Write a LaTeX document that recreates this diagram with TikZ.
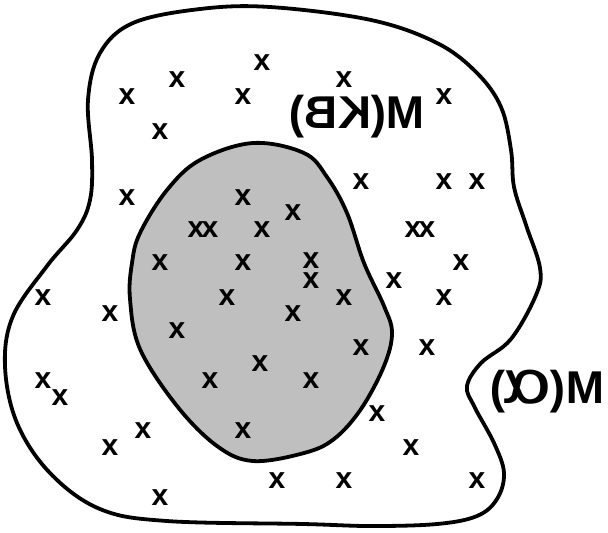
\documentclass[tikz,border=0pt]{standalone}
\usepackage{fontspec}
\setmainfont{Liberation Sans}
\newfontfamily\greekfont{DejaVu Sans}

\begin{document}
\begin{tikzpicture}[x=0.5pt, y=-0.5pt,
    outline/.style={line width=1.9pt, line join=round},
    cross/.style={font=\fontsize{15}{15}\selectfont\bfseries, inner sep=0pt},
    mirrored/.style={font=\fontsize{23}{23}\selectfont\bfseries, xscale=-1, inner sep=0pt}]

\useasboundingbox (0,0) rectangle (608,532);

% Outer region M(alpha)
\draw[outline] plot[smooth cycle, tension=0.6] coordinates {
    (270,7) (371,20) (437,43) (477,73) (501,107) (511,150) (514,187)
    (526,225) (540,268) (536,295) (511,339) (481,363) (467,386) (474,406)
    (494,443) (504,473) (497,499) (477,516) (437,524) (371,526) (304,524)
    (167,521) (100,509) (50,473) (17,423) (5,366) (13,316) (47,266)
    (77,230) (90,200) (92,160) (88,100) (100,53) (133,23) (200,9)};

% Inner region M(KB)
\draw[outline, fill=black!25] plot[smooth cycle, tension=0.6] coordinates {
    (253,143) (304,153) (327,177) (347,213) (364,263) (384,306) (392,333)
    (384,366) (361,409) (334,439) (304,453) (253,461) (217,446) (177,406)
    (140,349) (130,299) (132,263) (140,233) (167,190) (200,160)};

% Models
\foreach \px/\py [count=\i] in {
    127/97, 177/80, 262/63, 243/97, 160/132, 344/80, 444/97,
    127/198, 243/198, 293/213, 196/230, 210/230, 262/230,
    160/263, 243/263, 311/261, 311/281, 361/182, 444/182, 477/182,
    413/230, 427/230, 461/263, 394/281,
    43/298, 110/314, 227/298, 293/314, 344/298, 444/298,
    177/331, 361/348, 427/348, 260/364,
    210/381, 311/381, 43/381, 60/398,
    377/414, 143/431, 243/431, 110/448, 411/448,
    277/481, 344/481, 477/481, 160/498}
    \node[cross] (m\i) at (\px,\py) {x};

% Labels
\node[mirrored] (kb) at (357,117) {M(KB)};
\node[mirrored] (alpha) at (547,392) {M(\kern-1pt\scalebox{1.7}[1.3]{\greekfont\mdseries α}\kern-2pt)};

\end{tikzpicture}
\end{document}
